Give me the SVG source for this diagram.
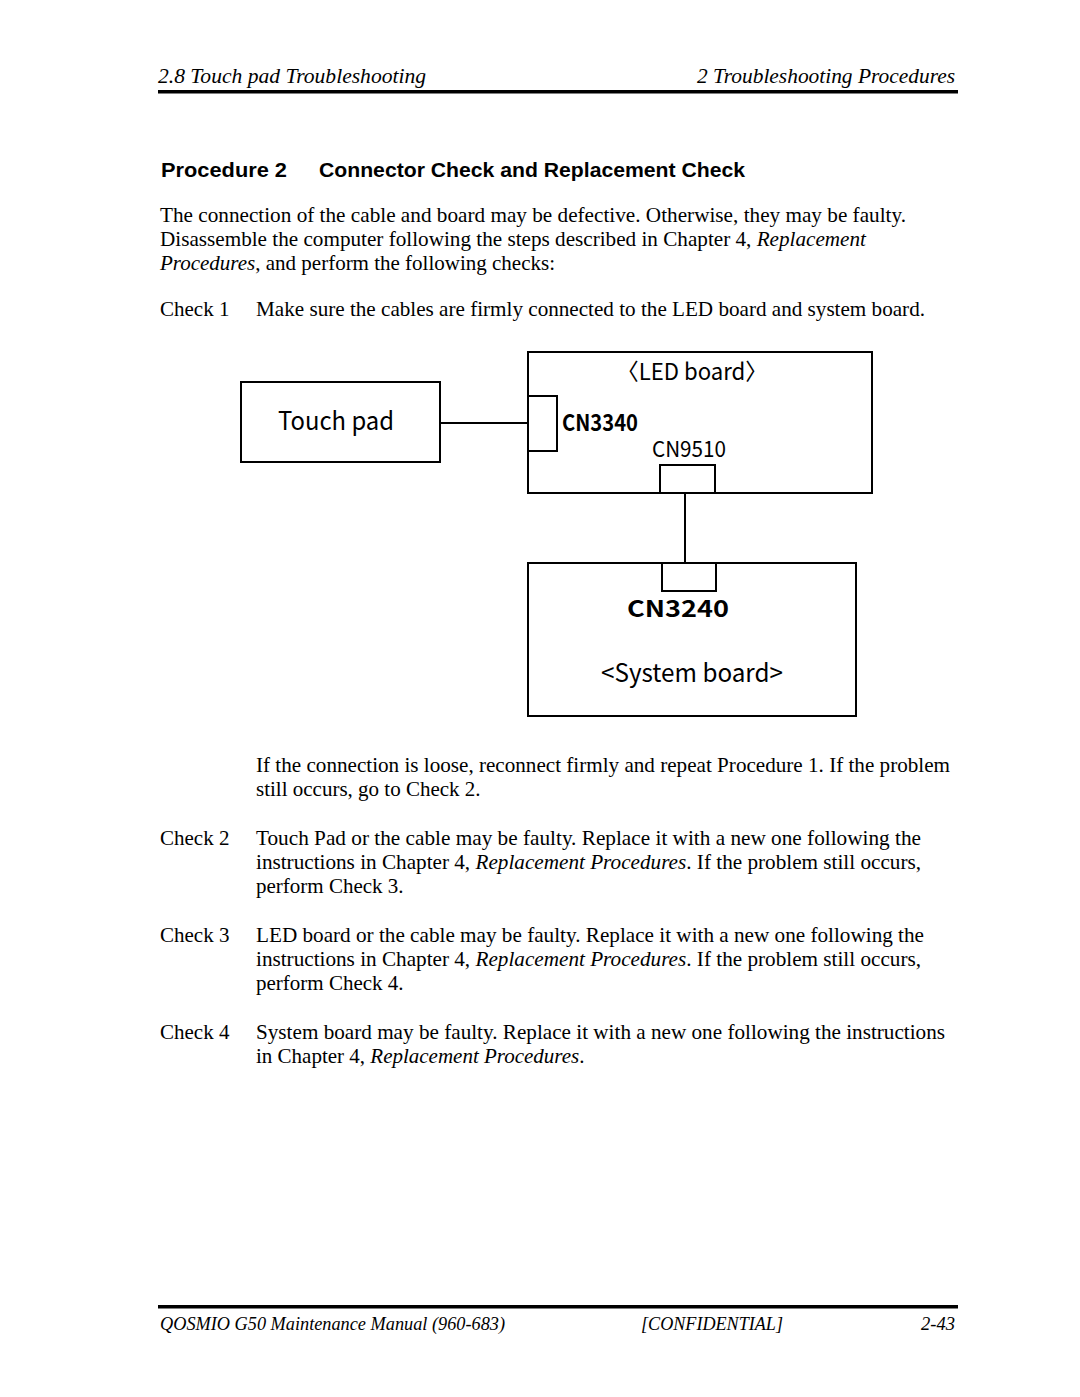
<svg xmlns="http://www.w3.org/2000/svg" width="1080" height="1397" viewBox="0 0 1080 1397">
<style>
.hdr{font-family:"Liberation Serif",serif;font-style:italic;font-size:21px;fill:#000}
.ft{font-family:"Liberation Serif",serif;font-style:italic;font-size:18px;fill:#000}
.b{font-family:"Liberation Serif",serif;font-size:21px;fill:#000}
.i{font-style:italic}
.h2{font-family:"Liberation Sans",Arial,sans-serif;font-weight:bold;font-size:21px;fill:#000}
.box{fill:#fff;stroke:#000;stroke-width:2}
.con{fill:none;stroke:#000;stroke-width:2}
.g{font-family:"Noto Sans CJK JP","DejaVu Sans",sans-serif;fill:#000}
</style>
<rect width="1080" height="1397" fill="#fff"/>
<text class="hdr" x="158" y="83" textLength="268" lengthAdjust="spacingAndGlyphs">2.8 Touch pad Troubleshooting</text>
<text class="hdr" x="955" y="83" text-anchor="end" textLength="258" lengthAdjust="spacingAndGlyphs">2 Troubleshooting Procedures</text>
<rect x="158" y="90" width="800" height="3.5" fill="#000"/>
<text class="h2" x="161" y="177" textLength="126" lengthAdjust="spacingAndGlyphs">Procedure 2</text>
<text class="h2" x="319" y="177" textLength="426" lengthAdjust="spacingAndGlyphs">Connector Check and Replacement Check</text>
<text class="b" x="160" y="222" textLength="746" lengthAdjust="spacingAndGlyphs">The connection of the cable and board may be defective. Otherwise, they may be faulty.</text>
<text class="b" x="160" y="246" textLength="706" lengthAdjust="spacingAndGlyphs">Disassemble the computer following the steps described in Chapter 4, <tspan class="i">Replacement</tspan></text>
<text class="b" x="160" y="270"><tspan class="i">Procedures</tspan>, and perform the following checks:</text>
<text class="b" x="160" y="316">Check 1</text>
<text class="b" x="256" y="316" textLength="669" lengthAdjust="spacingAndGlyphs">Make sure the cables are firmly connected to the LED board and system board.</text>
<g id="touchpad">
<rect class="box" x="241" y="382" width="199" height="80"/>
<text class="g" x="336" y="430" font-size="25" text-anchor="middle" textLength="116" lengthAdjust="spacingAndGlyphs">Touch pad</text>
</g>
<g id="ledboard">
<rect class="box" x="528" y="352" width="344" height="141"/>
<text class="g" x="692" y="380" font-size="23" text-anchor="middle" textLength="151" lengthAdjust="spacingAndGlyphs">〈LED board〉</text>
<rect class="box" x="528" y="396" width="29" height="55"/>
<text class="g" x="562" y="431" font-size="23" font-weight="bold" textLength="76" lengthAdjust="spacingAndGlyphs">CN3340</text>
<text class="g" x="652" y="457" font-size="22" textLength="74" lengthAdjust="spacingAndGlyphs">CN9510</text>
<rect class="box" x="660" y="465" width="55" height="28"/>
</g>
<g id="systemboard">
<rect class="box" x="528" y="563" width="328" height="153"/>
<rect class="box" x="662" y="563" width="54" height="28"/>
<text class="g" x="627" y="617" font-size="23" font-weight="600" textLength="102" lengthAdjust="spacingAndGlyphs">CN3240</text>
<text class="g" x="692" y="682" font-size="25" text-anchor="middle" textLength="182" lengthAdjust="spacingAndGlyphs">&lt;System board&gt;</text>
</g>
<g id="connectors">
<line class="con" x1="440" y1="423" x2="528" y2="423"/>
<line class="con" x1="685" y1="493" x2="685" y2="563"/>
</g>
<text class="b" x="256" y="772" textLength="694" lengthAdjust="spacingAndGlyphs">If the connection is loose, reconnect firmly and repeat Procedure 1. If the problem</text>
<text class="b" x="256" y="796">still occurs, go to Check 2.</text>
<text class="b" x="160" y="845">Check 2</text>
<text class="b" x="256" y="845" textLength="665" lengthAdjust="spacingAndGlyphs">Touch Pad or the cable may be faulty. Replace it with a new one following the</text>
<text class="b" x="256" y="869" textLength="665" lengthAdjust="spacingAndGlyphs">instructions in Chapter 4, <tspan class="i">Replacement Procedures</tspan>. If the problem still occurs,</text>
<text class="b" x="256" y="893">perform Check 3.</text>
<text class="b" x="160" y="942">Check 3</text>
<text class="b" x="256" y="942" textLength="668" lengthAdjust="spacingAndGlyphs">LED board or the cable may be faulty. Replace it with a new one following the</text>
<text class="b" x="256" y="966" textLength="665" lengthAdjust="spacingAndGlyphs">instructions in Chapter 4, <tspan class="i">Replacement Procedures</tspan>. If the problem still occurs,</text>
<text class="b" x="256" y="990">perform Check 4.</text>
<text class="b" x="160" y="1039">Check 4</text>
<text class="b" x="256" y="1039" textLength="689" lengthAdjust="spacingAndGlyphs">System board may be faulty. Replace it with a new one following the instructions</text>
<text class="b" x="256" y="1063">in Chapter 4, <tspan class="i">Replacement Procedures</tspan>.</text>
<rect x="158" y="1305" width="800" height="3.5" fill="#000"/>
<text class="ft" x="160" y="1330" textLength="345" lengthAdjust="spacingAndGlyphs">QOSMIO G50 Maintenance Manual (960-683)</text>
<text class="ft" x="641" y="1330" textLength="142" lengthAdjust="spacingAndGlyphs">[CONFIDENTIAL]</text>
<text class="ft" x="955" y="1330" text-anchor="end" textLength="34" lengthAdjust="spacingAndGlyphs">2-43</text>
</svg>
